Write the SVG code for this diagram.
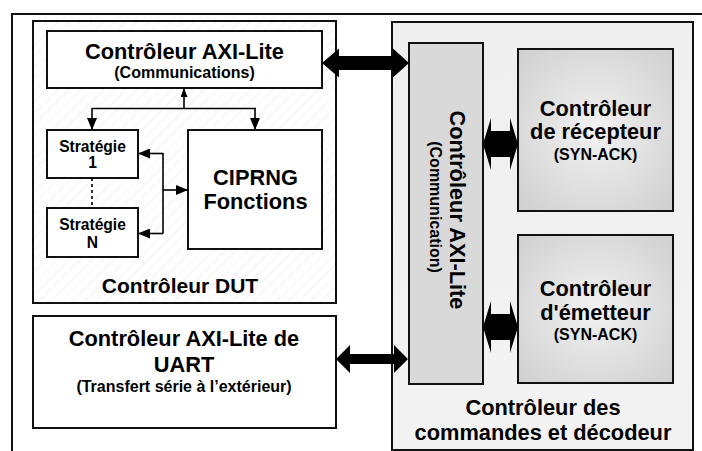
<svg xmlns="http://www.w3.org/2000/svg" width="702" height="451" viewBox="0 0 702 451">
<style>
text{font-family:"Liberation Sans",Arial,sans-serif;font-weight:bold;fill:#000;text-anchor:middle}
.box{stroke:#111;stroke-width:2}
.big{font-size:21.8px}
.mid{font-size:21px}
.sm{font-size:16px}
.st{font-size:15.6px}
.ln{fill:none;stroke:#000;stroke-width:1.6}
.dbl{fill:#000;stroke:none}
</style>
<defs>
<pattern id="hatch" patternUnits="userSpaceOnUse" width="8" height="8" patternTransform="rotate(45)">
<rect width="8" height="8" fill="#ffffff"/>
<line x1="0" y1="0" x2="0" y2="8" stroke="#e6e6e6" stroke-width="1"/>
</pattern>
<linearGradient id="gRight" x1="0" y1="0" x2="0" y2="1">
<stop offset="0" stop-color="#efefef"/>
<stop offset="1" stop-color="#f3f3f3"/>
</linearGradient>
<radialGradient id="gSub" cx="0.5" cy="0.5" r="0.7">
<stop offset="0" stop-color="#f2f2f2"/>
<stop offset="1" stop-color="#cfcfcf"/>
</radialGradient>
<marker id="ah" viewBox="0 0 12 10" refX="12" refY="5" markerWidth="12" markerHeight="10" markerUnits="userSpaceOnUse" orient="auto">
<path d="M0,0 L12,5 L0,10 z" fill="#000"/>
</marker>
<marker id="ahs" viewBox="0 0 9 7" refX="9" refY="3.5" markerWidth="9" markerHeight="7" markerUnits="userSpaceOnUse" orient="auto">
<path d="M0,0 L9,3.5 L0,7 z" fill="#000"/>
</marker>
</defs>
<rect width="702" height="451" fill="#ffffff"/>
<g id="outer-frame">
<rect x="12" y="14" width="700" height="450" fill="none" stroke="#111" stroke-width="2"/>
</g>
<g id="dut-controller">
<rect class="box" x="33" y="21" width="303" height="282" fill="url(#hatch)"/>
<text class="mid" x="180" y="293">Contrôleur DUT</text>
</g>
<g id="axi-lite-comm">
<rect class="box" x="47" y="31" width="275" height="57" fill="#ffffff"/>
<text class="big" x="184.5" y="59">Contrôleur AXI-Lite</text>
<text class="sm" x="184.5" y="78">(Communications)</text>
</g>
<g id="strategie-1">
<rect class="box" x="47" y="130" width="91" height="48" fill="#ffffff"/>
<text class="st" x="92.5" y="152">Stratégie</text>
<text class="st" x="92.5" y="168">1</text>
</g>
<g id="strategie-n">
<rect class="box" x="47" y="208" width="91" height="49" fill="#ffffff"/>
<text class="st" x="92.5" y="230">Stratégie</text>
<text class="st" x="92.5" y="248">N</text>
</g>
<g id="ciprng">
<rect class="box" x="188" y="130" width="134" height="119" fill="#ffffff"/>
<text class="big" x="255.5" y="185">CIPRNG</text>
<text class="big" x="255.5" y="209">Fonctions</text>
</g>
<g id="uart-controller">
<rect class="box" x="33" y="316" width="303" height="112" fill="#ffffff"/>
<text class="big" x="184" y="346">Contrôleur AXI-Lite de</text>
<text class="big" x="184" y="372">UART</text>
<text class="sm" x="184" y="392">(Transfert série à l’extérieur)</text>
</g>
<g id="command-decoder">
<rect class="box" x="392" y="22" width="301" height="428" fill="url(#gRight)"/>
<text class="big" x="543" y="415">Contrôleur des</text>
<text class="big" x="543" y="440">commandes et décodeur</text>
</g>
<g id="axi-lite-vertical">
<rect class="box" x="409" y="43" width="74" height="341" fill="#d9d9d9"/>
<text class="big" transform="translate(450,210) rotate(90)">Contrôleur AXI-Lite</text>
<text class="sm" transform="translate(430,207) rotate(90)">(Communication)</text>
</g>
<g id="receiver-controller">
<rect class="box" x="518" y="49" width="155" height="162" fill="url(#gSub)"/>
<text class="big" x="595.5" y="116">Contrôleur</text>
<text class="big" x="595.5" y="139">de récepteur</text>
<text class="sm" x="595.5" y="160">(SYN-ACK)</text>
</g>
<g id="emitter-controller">
<rect class="box" x="518" y="235" width="155" height="148" fill="url(#gSub)"/>
<text class="big" x="595.5" y="296">Contrôleur</text>
<text class="big" x="595.5" y="320">d'émetteur</text>
<text class="sm" x="595.5" y="340">(SYN-ACK)</text>
</g>
<g id="connectors">
<polyline class="ln" points="184,108 184,88" marker-end="url(#ahs)"/>
<line class="ln" x1="92" y1="108.5" x2="256" y2="108.5"/>
<polyline class="ln" points="92,108 92,130" marker-end="url(#ah)"/>
<polyline class="ln" points="255,108 255,130" marker-end="url(#ah)"/>
<line class="ln" x1="92" y1="178" x2="92" y2="208" stroke-dasharray="3,3" stroke-width="2"/>
<line class="ln" x1="163" y1="153" x2="163" y2="233.5"/>
<polyline class="ln" points="163,153.5 138,153.5" marker-end="url(#ah)"/>
<polyline class="ln" points="163,233.5 138,233.5" marker-end="url(#ah)"/>
<polyline class="ln" points="163,190 188,190" marker-end="url(#ah)"/>
<polygon class="dbl" points="322,63 339,48.5 339,56 393,56 393,48.5 409,63 393,77.5 393,70 339,70 339,77.5"/>
<polygon class="dbl" points="336,359 350,345 350,354 394,354 394,345 408,359 394,373 394,364 350,364 350,373"/>
<polygon class="dbl" points="483,144 491,118 491,131 510,131 510,118 518,144 510,170 510,157 491,157 491,170"/>
<polygon class="dbl" points="483,327 491,301 491,314 510,314 510,301 518,327 510,353 510,340 491,340 491,353"/>
</g>
</svg>
